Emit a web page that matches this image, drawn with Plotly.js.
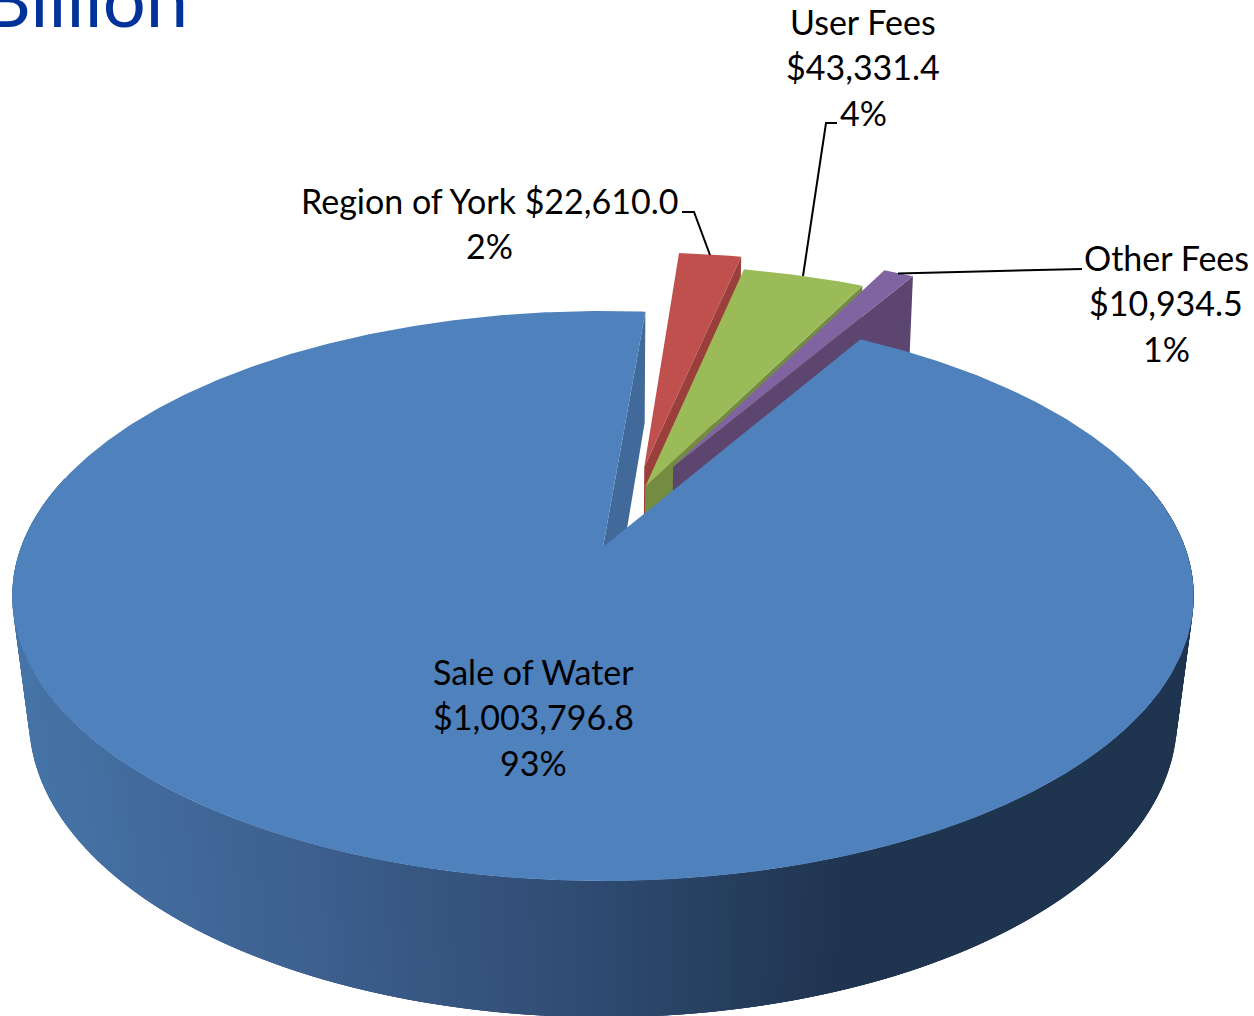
<!DOCTYPE html>
<html><head><meta charset="utf-8">
<script src="https://cdn.plot.ly/plotly-3.0.1.min.js"></script>
<style>html,body{margin:0;padding:0;background:#fff;overflow:hidden}#chart{width:1254px;height:1016px}</style>
</head><body><div id="chart"></div>
<script>
// ---- data ----
const categories = ["Sale of Water", "Region of York", "User Fees", "Other Fees"];
const amounts = [1003796.8, 22610.0, 43331.4, 10934.5];

// ---- styles ----
const topColors = ["#4f81bd", "#c0504d", "#9bbb59", "#8064a2"];
const wallColors = ["#41699a", "#9a3f3c", "#738c42", "#5c4670"];
const font = "Lato, 'Open Sans', sans-serif";

// ---- projection of the pie: two perspective planes (top face and bottom face) ----
const topPlane = {cx: 603, cy: 547, A: 582, B: 276.6, k: 0.172};
const botPlane = {cx: 603, cy: 672, A: 566.6, B: 290, k: 0.16};
const firstSliceAngle = 30.5;          // degrees clockwise from 12 o'clock
// explosion of each slice in plane units, relative to the first slice
const explode = [[0, 0], [0.0746, 0.304], [0.0751, 0.2251], [0.1268, 0.3057]];
const radius = [1, 1, 1.012, 1.012];
const wallRange = [75, 285];           // part of the outer wall that can be seen

function proj(pl, u, v) { const d = 1 + pl.k * v; return [pl.cx + pl.A * u / d, pl.cy - pl.B * v / d]; }
function pt(pl, i, deg, t) {
  const a = deg * Math.PI / 180, r = radius[i] * t;
  return proj(pl, explode[i][0] + r * Math.sin(a), explode[i][1] + r * Math.cos(a));
}
const total = amounts.reduce((a, b) => a + b, 0);
const sweeps = [];
let cursor = firstSliceAngle;
amounts.forEach(v => { const s = v / total * 360; sweeps.push([cursor, cursor + s]); cursor += s; });

function poly(points, color) {
  return {type: "scatter", mode: "lines", x: points.map(p => p[0]), y: points.map(p => p[1]),
    fill: "toself", fillcolor: color, line: {color: color, width: 0},
    hoverinfo: "skip", showlegend: false};
}
function topFace(i) {
  const [a0, a1] = sweeps[i], pts = [pt(topPlane, i, a0, 0)];
  const n = Math.max(8, Math.ceil((a1 - a0) / 0.5));
  for (let j = 0; j <= n; j++) pts.push(pt(topPlane, i, a0 + (a1 - a0) * j / n, 1));
  return poly(pts, topColors[i]);
}
function cutFace(i, deg) {
  return poly([pt(topPlane, i, deg, 0), pt(topPlane, i, deg, 1), pt(botPlane, i, deg, 1), pt(botPlane, i, deg, 0)], wallColors[i]);
}
// outer wall shading of the big slice
const shadeStops = [[12, [70, 116, 168]], [300, [61, 96, 143]], [600, [46, 74, 112]], [850, [31, 52, 79]], [1254, [31, 52, 79]]];
function shade(x) {
  for (let i = 1; i < shadeStops.length; i++) {
    if (x <= shadeStops[i][0]) {
      const [x0, c0] = shadeStops[i - 1], [x1, c1] = shadeStops[i];
      const t = Math.max(0, (x - x0) / (x1 - x0));
      return "rgb(" + c0.map((c, k) => Math.round(c + (c1[k] - c) * t)).join(",") + ")";
    }
  }
  return "rgb(31,52,79)";
}
function outerWall(i, step) {
  const out = [], a0 = wallRange[0], a1 = wallRange[1];
  // painted from the right side to the left; each strip reaches under the next one
  for (let a = a0; a < a1; a += step) {
    const b = Math.min(a + step * 3, a1), pts = [];
    for (let j = 0; j <= 6; j++) pts.push(pt(topPlane, i, a + (b - a) * j / 6, 1));
    for (let j = 6; j >= 0; j--) pts.push(pt(botPlane, i, a + (b - a) * j / 6, 1));
    const mid = pt(topPlane, i, a + step / 2, 1)[0];
    out.push(poly(pts, shade(mid)));
  }
  return out;
}

const traces = [];
// far slices, back to front
[1, 2, 3].forEach(i => { traces.push(cutFace(i, sweeps[i][1])); traces.push(topFace(i)); });
// big slice
traces.push(...outerWall(0, 1));
traces.push(cutFace(0, sweeps[0][1]));
traces.push(topFace(0));

// ---- leader lines ----
const leaders = [
  {x: [710, 694, 682], y: [255, 212, 212]},
  {x: [803, 826, 837], y: [276, 123, 123]},
  {x: [898, 1082, 1082], y: [273.5, 269, 269]}
];
leaders.forEach(l => traces.push({type: "scatter", mode: "lines", x: l.x, y: l.y,
  line: {color: "#000", width: 2}, hoverinfo: "skip", showlegend: false}));

// ---- labels ----
const money = v => "$" + v.toLocaleString("en-US", {minimumFractionDigits: 1, maximumFractionDigits: 1});
const pct = v => Math.round(v / total * 100) + "%";
const labelLines = [
  [categories[0], money(amounts[0]), pct(amounts[0])],
  [categories[1] + " " + money(amounts[1]), pct(amounts[1])],
  [categories[2], money(amounts[2]), pct(amounts[2])],
  [categories[3], money(amounts[3]), pct(amounts[3])]
];
const labelX = [533, 489, 863, 1166];
const labelY = [671, 200, 21, 257];
const lineStep = 45.7;
const annotations = [];
labelLines.forEach((lines, i) => lines.forEach((txt, j) => annotations.push({
  xref: "x", yref: "y", x: labelX[i], y: labelY[i] + j * lineStep, text: txt, showarrow: false,
  xanchor: "center", yanchor: "middle", font: {family: font, size: 34, color: "#000"}
})));
annotations.push({xref: "x", yref: "y", x: 190, y: 45, text: "Billion", showarrow: false,
  xanchor: "right", yanchor: "bottom", font: {family: font, size: 76, color: "#003399"}});

Plotly.newPlot("chart", traces, {
  width: 1254, height: 1016, margin: {l: 0, r: 0, t: 0, b: 0},
  paper_bgcolor: "#fff", plot_bgcolor: "#fff", showlegend: false,
  xaxis: {range: [0, 1254], visible: false, fixedrange: true},
  yaxis: {range: [1016, 0], visible: false, fixedrange: true},
  annotations: annotations
}, {displayModeBar: false, staticPlot: true});
</script></body></html>
